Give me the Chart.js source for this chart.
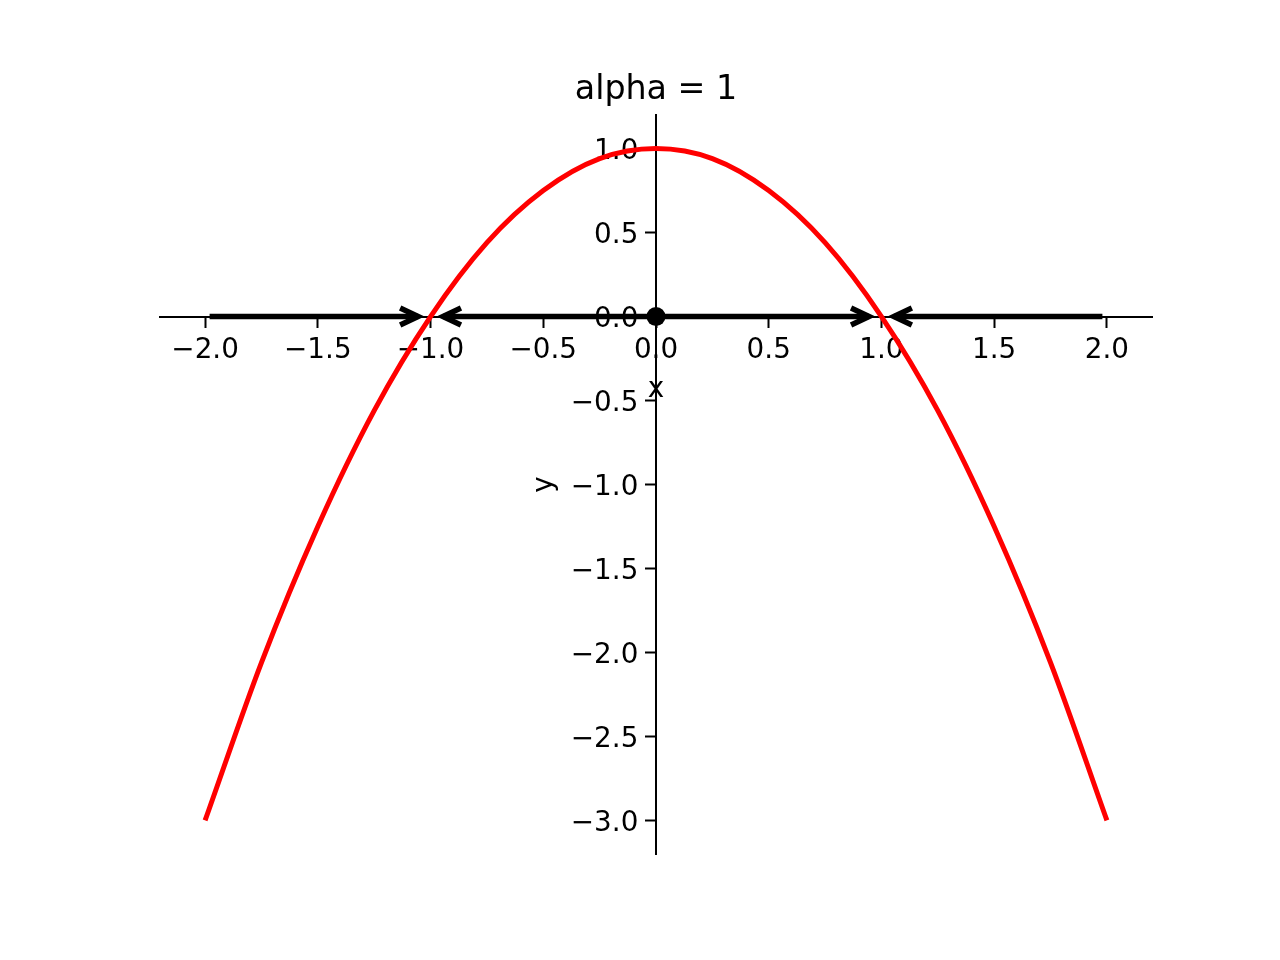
<!DOCTYPE html>
<html>
<head>
<meta charset="utf-8">
<script src="https://cdn.jsdelivr.net/npm/chart.js@4.4.0/dist/chart.umd.min.js"></script>
<style>
  html, body { margin: 0; padding: 0; background: #fff; }
  #wrap { width: 1280px; height: 960px; }
</style>
</head>
<body>
<div id="wrap"><canvas id="chart" width="1280" height="960"></canvas></div>
<script>
// values
const titleText = 'alpha = 1';
const curveX = [-2, -1.75, -1.5, -1.25, -1, -0.75, -0.5, -0.25, 0, 0.25, 0.5, 0.75, 1, 1.25, 1.5, 1.75, 2];
const curveY = [-3, -2.06, -1.25, -0.56, 0, 0.44, 0.75, 0.94, 1, 0.94, 0.75, 0.44, 0, -0.56, -1.25, -2.06, -3];
const xTicks = [-2, -1.5, -1, -0.5, 0, 0.5, 1, 1.5, 2];
const yTicks = [-3, -2.5, -2, -1.5, -1, -0.5, 0, 0.5, 1];
const arrowFrom = [-1.98, 0, 0, 1.98];
const arrowTo = [-1.055, -0.945, 0.945, 1.055];
const fixedX = [0];
const fixedY = [0];

const FONT = "'DejaVu Sans', sans-serif";

function fmt(v) {
  return (v < 0 ? '\u2212' : '') + Math.abs(v).toFixed(1);
}

// arrow heads, title and axis labels
const annotatePlugin = {
  id: 'annotate',
  afterDatasetDraw(chart, args) {
    const ds = chart.data.datasets[args.index];
    if (!ds.arrow) return;
    const xs = chart.scales.x, ys = chart.scales.y;
    const pts = ds.data;
    const from = pts[0], to = pts[pts.length - 1];
    const dir = to.x > from.x ? 1 : -1;
    const px = xs.getPixelForValue(to.x);
    const py = ys.getPixelForValue(to.y);
    const ctx = chart.ctx;
    ctx.save();
    ctx.strokeStyle = '#000';
    ctx.lineWidth = 5.5;
    ctx.lineJoin = 'miter';
    ctx.lineCap = 'butt';
    ctx.beginPath();
    ctx.moveTo(px - dir * 18, py - 8.5);
    ctx.lineTo(px, py);
    ctx.lineTo(px - dir * 18, py + 8.5);
    ctx.stroke();
    ctx.restore();
  },
  afterDraw(chart) {
    const ctx = chart.ctx;
    const area = chart.chartArea;
    const x0 = chart.scales.x.getPixelForValue(0);
    const y0 = chart.scales.y.getPixelForValue(0);
    ctx.save();
    ctx.fillStyle = '#000';
    ctx.textAlign = 'center';
    ctx.textBaseline = 'alphabetic';
    ctx.font = '33.3px ' + FONT;
    ctx.fillText(titleText, (area.left + area.right) / 2, area.top - 16);
    ctx.font = '27.8px ' + FONT;
    ctx.fillText('x', x0, y0 + 80);
    ctx.translate(x0 - 104.5, (area.top + area.bottom) / 2);
    ctx.rotate(-Math.PI / 2);
    ctx.fillText('y', 0, 0);
    ctx.restore();
  }
};

const arrowSets = arrowFrom.map((f, i) => ({
  label: 'arrow' + i,
  arrow: true,
  data: [{x: f, y: 0}, {x: arrowTo[i], y: 0}],
  borderColor: '#000',
  borderWidth: 5.5,
  pointRadius: 0,
  order: 2,
  clip: false
}));

const chartConfig = {
  type: 'line',
  data: {
    datasets: [
      {
        label: 'f',
        data: curveX.map((x, i) => ({x: x, y: curveY[i]})),
        borderColor: '#ff0000',
        borderWidth: 5,
        pointRadius: 0,
        cubicInterpolationMode: 'monotone',
        order: 0,
        clip: false
      },
      {
        label: 'fixed',
        data: fixedX.map((x, i) => ({x: x, y: fixedY[i]})),
        showLine: false,
        pointRadius: 9.5,
        pointBackgroundColor: '#000',
        pointBorderWidth: 0,
        order: 1,
        clip: false
      }
    ].concat(arrowSets)
  },
  options: {
    responsive: false,
    animation: false,
    devicePixelRatio: 1,
    layout: { padding: { left: 160, right: 128, top: 115, bottom: 106 } },
    plugins: {
      legend: { display: false },
      title: { display: false },
      tooltip: { enabled: false }
    },
    scales: {
      x: {
        type: 'linear',
        min: -2.2,
        max: 2.2,
        position: { y: 0 },
        afterBuildTicks: s => { s.ticks = xTicks.map(v => ({value: v})); },
        ticks: {
          callback: v => fmt(v),
          color: '#000',
          font: { family: FONT, size: 27.8 },
          padding: 7.5,
          maxRotation: 0,
          autoSkip: false
        },
        grid: { display: true, drawOnChartArea: false, drawTicks: true, tickLength: 10, tickWidth: 2, tickColor: '#000' },
        border: { display: true, color: '#000', width: 2 }
      },
      y: {
        type: 'linear',
        min: -3.2,
        max: 1.2,
        position: { x: 0 },
        afterBuildTicks: s => { s.ticks = yTicks.map(v => ({value: v})); },
        ticks: {
          callback: v => fmt(v) + '  ',
          color: '#000',
          font: { family: FONT, size: 27.8 },
          labelOffset: 3,
          autoSkip: false
        },
        grid: { display: true, drawOnChartArea: false, drawTicks: true, tickLength: 10, tickWidth: 2, tickColor: '#000' },
        border: { display: true, color: '#000', width: 2 }
      }
    }
  },
  plugins: [annotatePlugin]
};

const chart = new Chart(document.getElementById('chart'), chartConfig);
</script>
</body>
</html>
